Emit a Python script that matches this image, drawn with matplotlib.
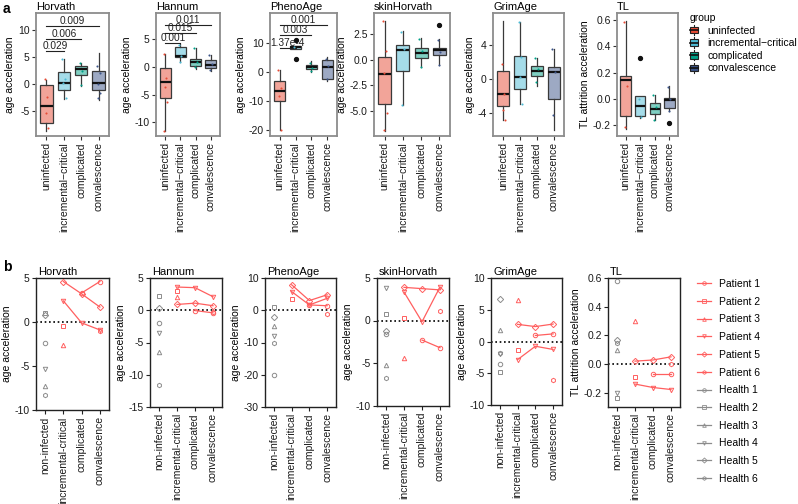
import numpy as np
import matplotlib
matplotlib.use('Agg')
import matplotlib.pyplot as plt
from matplotlib.patches import Patch, Rectangle
from matplotlib.lines import Line2D
from matplotlib.legend_handler import HandlerBase
from matplotlib.colors import to_rgba

plt.rcParams['font.family'] = ['Liberation Sans', 'DejaVu Sans']
plt.rcParams['font.size'] = 7.5

# ---------------- data ----------------
clocks = ['Horvath', 'Hannum', 'PhenoAge', 'skinHorvath', 'GrimAge', 'TL']
top_groups = ['uninfected', 'incremental\u2212critical', 'complicated', 'convalescence']
bottom_groups = ['non-infected', 'incremental-critical', 'complicated', 'convalescence']
npg = ['#E64B35', '#4DBBD5', '#00A087', '#3C5488']

# top row box statistics per group: (whislo, q1, med, q3, whishi)
box_horvath = [(-8.6, -7.1, -4.0, -0.1, 0.8), (-2.7, -1.05, 0.2, 2.3, 4.6),
               (-0.3, 1.7, 2.8, 3.3, 3.9), (-2.9, -1.05, 0.3, 2.5, 5.7)]
box_hannum = [(-11.6, -5.7, -2.65, -0.25, 2.3), (0.9, 1.9, 2.05, 3.55, 4.1),
              (-0.35, 0.2, 0.85, 1.4, 3.5), (-0.7, -0.2, 0.3, 1.2, 2.2)]
box_phenoage = [(-20.0, -10.0, -6.5, -3.1, 0.8), (7.8, 7.8, 8.5, 8.9, 8.9),
                (-0.1, 0.9, 1.7, 2.5, 3.7), (-3.1, -2.4, 1.7, 4.0, 5.2)]
box_skinhorvath = [(-6.9, -4.3, -1.4, 0.25, 3.7), (-4.4, -1.1, 0.95, 1.45, 2.75),
                   (-0.7, 0.1, 0.65, 1.15, 2.1), (-0.55, 0.4, 0.9, 1.1, 1.95)]
box_grimage = [(-4.8, -3.15, -1.8, 0.95, 6.75), (-2.9, -1.25, 0.25, 2.7, 6.6),
               (-0.85, 0.3, 0.9, 1.45, 2.4), (-6.05, -2.35, 0.8, 1.4, 3.5)]
box_tl = [(-0.23, -0.13, 0.14, 0.17, 0.59), (-0.145, -0.13, -0.05, 0.02, 0.02),
          (-0.16, -0.115, -0.075, -0.03, 0.03), (-0.09, -0.065, -0.01, 0.005, 0.1)]

# outliers per group
fliers_horvath = [[], [], [], []]
fliers_hannum = [[], [], [], []]
fliers_phenoage = [[], [10.9, 4.6], [], []]
fliers_skinhorvath = [[], [], [], [3.3]]
fliers_grimage = [[], [], [], []]
fliers_tl = [[], [0.31], [], [-0.18]]

# jittered sample points in the top row
pts_horvath = [[1.0, -2.4, -5.4, -8.2], [4.6, 1.0, 0.2, -2.6], [3.9, 2.4, -0.2], [3.3, 2.0, 0.0, -1.6, -2.6]]
pts_hannum = [[2.3, -2.0, -3.7, -6.4, -11.6], [4.0, 2.0, 0.9], [3.5, 1.0, 0.0], [2.1, 0.5, -0.5]]
pts_phenoage = [[0.8, -5.4, -8.4, -20.0], [8.5], [2.9, 1.5, 0.2], [4.5, 2.0, -2.4]]
pts_skinhorvath = [[3.7, 0.8, -1.3, -5.2, -6.8], [2.7, 1.0, -4.4], [2.0, 0.8, -0.7], [1.9, 0.7, -0.5]]
pts_grimage = [[1.7, -1.8, -3.6, -4.8], [6.6, 2.6, 0.2, -2.9], [2.4, 1.2, -0.4], [3.5, 0.8, -4.3]]
pts_tl = [[0.58, 0.1, -0.21], [0.0, -0.14], [0.03, -0.06, -0.16], [0.09, 0.0, -0.09]]

# significance brackets (uninfected vs group k): (group index, y, label)
sig_horvath = [(2, 6.2, '0.029'), (3, 8.4, '0.006'), (4, 10.8, '0.009')]
sig_hannum = [(2, 4.4, '0.001'), (3, 6.1, '0.015'), (4, 7.7, '0.011')]
sig_phenoage = [(2, 8.4, '1.37e-4'), (3, 12.6, '0.003'), (4, 16.3, '0.001')]

# bottom row: healthy individuals (Health 1..6)
health_horvath = [-2.4, 1.0, -7.3, -5.3, 0.85, -8.3]
health_hannum = [-1.95, 2.2, -6.5, -3.5, 0.35, -11.6]
health_phenoage = [-20.2, 1.1, -4.8, -8.0, -2.0, -10.3]
health_skinhorvath = [-1.6, 0.8, -5.2, 3.8, -1.25, -6.8]
health_grimage = [-3.5, -4.85, 1.75, -1.9, 6.7, -1.8]
health_tl = [0.58, -0.235, 0.10, -0.2, 0.17, 0.15]

nan = np.nan
# patients 1..6: values at (incremental-critical, complicated, convalescence)
pat_horvath = [[nan, 3.3, 4.6], [-0.4, nan, nan], [-2.6, nan, nan],
               [2.4, -0.1, -0.9], [4.6, 3.2, 1.7], [nan, nan, -1.0]]
pat_hannum = [[nan, -0.05, -0.4], [3.0, nan, nan], [2.1, nan, nan],
              [3.6, 3.5, 2.1], [0.9, 1.1, 0.7], [nan, nan, -0.2]]
pat_phenoage = [[nan, 1.65, 1.4], [3.5, nan, nan], [nan, nan, nan],
                [5.8, 1.65, 3.7], [7.9, 3.0, 4.8], [nan, nan, -1.2]]
pat_skinhorvath = [[nan, -2.3, -3.2], [0.25, nan, nan], [-4.45, nan, nan],
                   [3.35, -0.15, 3.95], [3.9, 3.75, 3.6], [nan, nan, 1.1]]
pat_grimage = [[nan, 0.95, 1.2], [-1.4, nan, nan], [6.6, nan, nan],
               [-2.85, -0.75, -1.25], [2.7, 2.35, 2.75], [nan, nan, -6.1]]
pat_tl = [[nan, -0.07, -0.07], [-0.09, nan, nan], [0.30, nan, nan],
          [-0.14, -0.164, -0.178], [0.02, 0.028, 0.05], [nan, nan, 0.0]]

patient_labels = ['Patient %d' % i for i in range(1, 7)]
health_labels = ['Health %d' % i for i in range(1, 7)]
markers = ['o', 's', '^', 'v', 'D', 'h']

top_boxes = [box_horvath, box_hannum, box_phenoage, box_skinhorvath, box_grimage, box_tl]
top_fliers = [fliers_horvath, fliers_hannum, fliers_phenoage, fliers_skinhorvath, fliers_grimage, fliers_tl]
top_pts = [pts_horvath, pts_hannum, pts_phenoage, pts_skinhorvath, pts_grimage, pts_tl]
top_sigs = [sig_horvath, sig_hannum, sig_phenoage, [], [], []]
healths = [health_horvath, health_hannum, health_phenoage, health_skinhorvath, health_grimage, health_tl]
patients = [pat_horvath, pat_hannum, pat_phenoage, pat_skinhorvath, pat_grimage, pat_tl]

# ---------------- layout ----------------
W, H = 798, 504
fig = plt.figure(figsize=(W / 100, H / 100), dpi=100)


def add_ax(l, r, t, b):
    return fig.add_axes([l / W, 1 - b / H, (r - l) / W, (b - t) / H])


top_x = [(36, 109), (156, 220), (270, 337), (374, 450), (493, 564), (617, 678)]
top_ylim = [(-9.6, 13.2), (-12.5, 9.8), (-22.1, 20.3), (-7.4, 4.5), (-6.7, 7.7), (-0.28, 0.65)]
top_yticks = [[-5, 0, 5, 10], [-10, -5, 0, 5], [-20, -10, 0, 10], [-5, -2.5, 0, 2.5],
              [-4, 0, 4], [-0.2, 0, 0.2, 0.4, 0.6]]
top_fmt = ['%g', '%g', '%g', '%.1f', '%g', '%.1f']

bot_x = [(36, 109), (150, 222), (265, 336), (377, 449), (491, 562), (608, 680)]
bot_b = [410, 407, 407, 405.5, 405, 407]
bot_ylim = [(-10, 5), (-15, 5), (-30, 10), (-10, 5), (-10, 10), (-0.3, 0.6)]
bot_yticks = [[-10, -5, 0, 5], [-15, -10, -5, 0, 5], [-30, -20, -10, 0, 10], [-10, -5, 0, 5],
              [-10, -5, 0, 5, 10], [-0.2, 0, 0.2, 0.4, 0.6]]
bot_fmt = ['%g', '%g', '%g', '%g', '%g', '%.1f']

jitter = [-0.09, 0.06, -0.03, 0.1, -0.06]
pat_color = '#FF5F5F'
health_color = '#8C8C8C'

for i, name in enumerate(clocks):
    # ---------- top row ----------
    ax = add_ax(top_x[i][0], top_x[i][1], 13, 136)
    stats = []
    for g, (lo, q1, med, q3, hi) in enumerate(top_boxes[i]):
        stats.append(dict(whislo=lo, q1=q1, med=med, q3=q3, whishi=hi, fliers=top_fliers[i][g]))
    bp = ax.bxp(stats, positions=[1, 2, 3, 4], widths=0.72, patch_artist=True, showcaps=False,
                boxprops=dict(edgecolor='#3a3a3a', linewidth=0.9),
                whiskerprops=dict(color='#3a3a3a', linewidth=0.9),
                medianprops=dict(color='#111111', linewidth=1.6),
                flierprops=dict(marker='o', markerfacecolor='#111111', markeredgecolor='#111111',
                                markersize=2.8))
    for g, patch in enumerate(bp['boxes']):
        patch.set_facecolor(to_rgba(npg[g], 0.5))
    for g, vals in enumerate(top_pts[i]):
        xs = [g + 1 + jitter[k % len(jitter)] for k in range(len(vals))]
        ax.plot(xs, vals, 'o', ms=1.5, color=npg[g], mew=0, zorder=5)
    for (gk, yv, lab) in top_sigs[i]:
        ax.plot([1, gk], [yv, yv], color='#222222', lw=0.8)
        ax.text((1 + gk) / 2, yv, lab, ha='center', va='bottom', fontsize=7.3, color='#222222')
    ax.set_xlim(0.4, 4.6)
    ax.set_ylim(*top_ylim[i])
    ax.set_yticks(top_yticks[i])
    ax.set_yticklabels([top_fmt[i] % v for v in top_yticks[i]])
    ax.set_xticks([1, 2, 3, 4])
    ax.set_xticklabels(top_groups, rotation=90)
    for s in ax.spines.values():
        s.set_color('#8C8C8C')
        s.set_linewidth(1.3)
    ax.tick_params(length=3, width=0.8, color='#333333', labelcolor='#1a1a1a', pad=1.5, labelsize=7.5)
    ax.set_ylabel('TL attrition acceleration' if name == 'TL' else 'age acceleration', labelpad=2)
    ax.set_title(name, loc='left', fontsize=8, pad=2.5)

    # ---------- bottom row ----------
    ax2 = add_ax(bot_x[i][0], bot_x[i][1], 278, bot_b[i])
    ax2.axhline(0, color='black', lw=1.2, ls=(0, (1, 1.6)), zorder=1)
    for h, v in enumerate(healths[i]):
        ax2.plot([1], [v], marker=markers[h], ms=3.2, mfc='none', mec=health_color, mew=0.7,
                 ls='none', zorder=3)
    for p, vals in enumerate(patients[i]):
        vals = np.array(vals, dtype=float)
        ax2.plot([2, 3, 4], vals, color=pat_color, lw=0.9, marker=markers[p], ms=3.2,
                 mfc='none', mec=pat_color, mew=0.7, zorder=4)
    ax2.set_xlim(0.5, 4.5)
    ax2.set_ylim(*bot_ylim[i])
    ax2.set_yticks(bot_yticks[i])
    ax2.set_yticklabels([(bot_fmt[i] % v).replace('\u2212', '-') for v in bot_yticks[i]])
    ax2.set_xticks([1, 2, 3, 4])
    ax2.set_xticklabels(bottom_groups, rotation=90)
    for s in ax2.spines.values():
        s.set_color('#222222')
        s.set_linewidth(1.0)
    ax2.tick_params(length=3, width=0.8, color='#222222', labelcolor='#1a1a1a', pad=1.5, labelsize=7.5)
    ax2.set_ylabel('TL attrition acceleration' if name == 'TL' else 'age acceleration', labelpad=2)
    ax2.set_title(name, loc='left', fontsize=8, pad=2.5, x=0.03)


# ---------------- legends ----------------
class BoxHandler(HandlerBase):
    def create_artists(self, legend, orig_handle, xdescent, ydescent, width, height, fontsize, trans):
        c = orig_handle.get_facecolor()
        x0, y0 = -xdescent, -ydescent
        wh = Line2D([x0 + width / 2] * 2, [y0 - height * 0.1, y0 + height * 1.1],
                    color='#222222', lw=0.8, transform=trans)
        rect = Rectangle((x0, y0 + height * 0.12), width, height * 0.76, facecolor=c,
                         edgecolor='#222222', lw=0.8, transform=trans)
        med = Line2D([x0, x0 + width], [y0 + height / 2] * 2, color='#111111', lw=1.2, transform=trans)
        return [wh, rect, med]


box_handles = [Patch(facecolor=c) for c in npg]
fig.legend(box_handles, top_groups, title='group', loc='upper left',
           bbox_to_anchor=(690 / W, 1 - 13 / H), frameon=False, handler_map={Patch: BoxHandler()},
           handlelength=0.8, handleheight=0.9, handletextpad=0.85, labelspacing=0.25,
           borderpad=0, borderaxespad=0, alignment='left', fontsize=7.5, title_fontsize=7.5)

line_handles = []
for p in range(6):
    line_handles.append(Line2D([0], [0], color=pat_color, lw=0.9, marker=markers[p], ms=2.6,
                               mfc='none', mec=pat_color, mew=0.6))
for h in range(6):
    line_handles.append(Line2D([0], [0], color=health_color, lw=0.9, marker=markers[h], ms=2.6,
                               mfc='none', mec=health_color, mew=0.6))
fig.legend(line_handles, patient_labels + health_labels, loc='upper left',
           bbox_to_anchor=(697 / W, 1 - 279 / H), frameon=False, handlelength=1.35,
           handletextpad=0.75, labelspacing=0.74, borderpad=0, borderaxespad=0, fontsize=7.5)

fig.text(3 / W, 1 - 2 / H, 'a', fontsize=10, fontweight='bold', va='top', ha='left')
fig.text(3 / W, 1 - 260 / H, 'b', fontsize=10, fontweight='bold', va='top', ha='left')

fig.savefig('out.png', dpi=100)
